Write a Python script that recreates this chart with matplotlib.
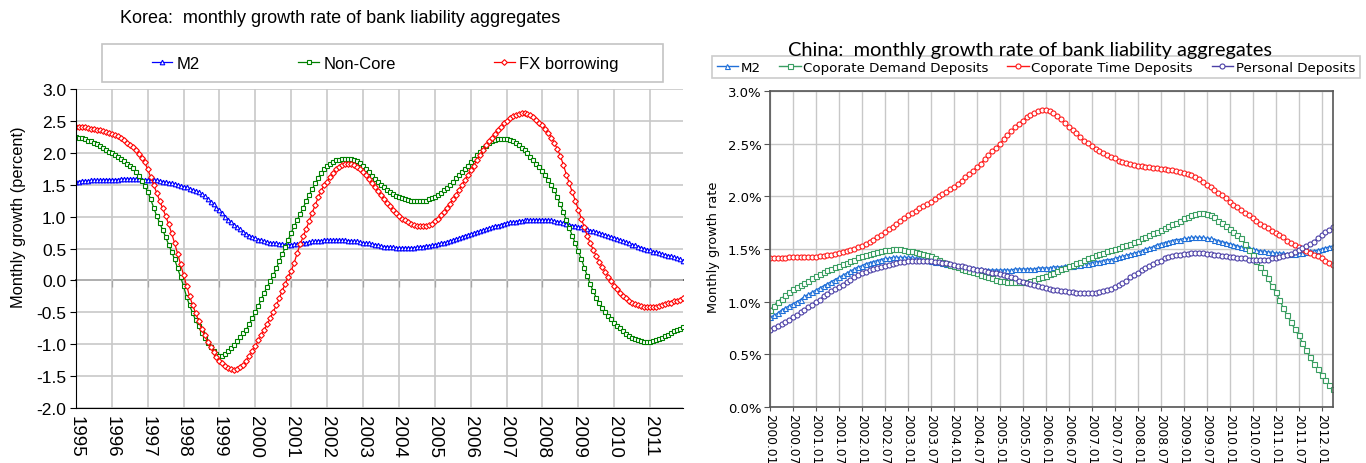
import numpy as np
import matplotlib
matplotlib.use("Agg")
import matplotlib.pyplot as plt
from matplotlib.patches import Rectangle

# ---- Korea: monthly data 1995.01 - 2011.12 ----
korea_years = [str(y) for y in range(1995, 2012)]

korea_m2 = [
    1.55, 1.55, 1.56, 1.56, 1.56, 1.57, 1.57, 1.57, 1.57, 1.58, 1.58, 1.58,
    1.58, 1.58, 1.58, 1.59, 1.59, 1.59, 1.59, 1.59, 1.59, 1.59, 1.58, 1.58,
    1.58, 1.58, 1.57, 1.57, 1.56, 1.55, 1.54, 1.53, 1.52, 1.51, 1.50, 1.48,
    1.47, 1.46, 1.44, 1.42, 1.40, 1.38, 1.35, 1.32, 1.28, 1.23, 1.19, 1.14,
    1.10, 1.05, 1.00, 0.95, 0.91, 0.87, 0.83, 0.80, 0.76, 0.73, 0.70, 0.68,
    0.66, 0.64, 0.63, 0.61, 0.60, 0.59, 0.58, 0.58, 0.57, 0.57, 0.56, 0.56,
    0.56, 0.57, 0.57, 0.58, 0.59, 0.59, 0.60, 0.61, 0.61, 0.62, 0.62, 0.63,
    0.63, 0.63, 0.63, 0.63, 0.63, 0.63, 0.63, 0.62, 0.62, 0.61, 0.61, 0.60,
    0.59, 0.58, 0.58, 0.57, 0.56, 0.55, 0.54, 0.53, 0.53, 0.52, 0.52, 0.51,
    0.51, 0.51, 0.51, 0.51, 0.51, 0.51, 0.52, 0.52, 0.53, 0.54, 0.54, 0.55,
    0.56, 0.57, 0.58, 0.59, 0.60, 0.62, 0.63, 0.65, 0.66, 0.68, 0.70, 0.71,
    0.73, 0.74, 0.76, 0.77, 0.79, 0.80, 0.82, 0.83, 0.85, 0.86, 0.87, 0.89,
    0.90, 0.91, 0.91, 0.92, 0.93, 0.93, 0.94, 0.94, 0.95, 0.95, 0.95, 0.95,
    0.95, 0.95, 0.95, 0.94, 0.93, 0.92, 0.91, 0.90, 0.89, 0.87, 0.86, 0.85,
    0.84, 0.83, 0.81, 0.80, 0.78, 0.77, 0.76, 0.74, 0.73, 0.71, 0.70, 0.68,
    0.67, 0.65, 0.63, 0.62, 0.60, 0.58, 0.56, 0.55, 0.53, 0.51, 0.50, 0.48,
    0.47, 0.45, 0.44, 0.43, 0.41, 0.40, 0.39, 0.38, 0.36, 0.35, 0.33, 0.31,
]

korea_noncore = [
    2.25, 2.24, 2.23, 2.21, 2.19, 2.18, 2.16, 2.14, 2.11, 2.08, 2.05, 2.02,
    1.99, 1.96, 1.93, 1.90, 1.87, 1.83, 1.80, 1.76, 1.70, 1.63, 1.56, 1.48,
    1.39, 1.27, 1.14, 1.01, 0.90, 0.79, 0.68, 0.56, 0.45, 0.33, 0.19, 0.05,
    -0.09, -0.26, -0.39, -0.51, -0.62, -0.72, -0.82, -0.91, -0.98, -1.05, -1.10, -1.15,
    -1.18, -1.19, -1.16, -1.11, -1.06, -1.01, -0.95, -0.89, -0.83, -0.77, -0.68, -0.59,
    -0.50, -0.40, -0.29, -0.19, -0.10, -0.01, 0.08, 0.19, 0.30, 0.41, 0.52, 0.64,
    0.75, 0.85, 0.95, 1.04, 1.14, 1.24, 1.34, 1.43, 1.52, 1.61, 1.68, 1.75,
    1.79, 1.83, 1.86, 1.88, 1.89, 1.90, 1.91, 1.91, 1.90, 1.89, 1.87, 1.84,
    1.80, 1.75, 1.70, 1.64, 1.59, 1.54, 1.50, 1.46, 1.42, 1.39, 1.36, 1.33,
    1.31, 1.29, 1.27, 1.26, 1.25, 1.24, 1.24, 1.24, 1.24, 1.25, 1.27, 1.29,
    1.31, 1.34, 1.37, 1.41, 1.45, 1.49, 1.54, 1.60, 1.65, 1.70, 1.75, 1.80,
    1.85, 1.91, 1.96, 2.01, 2.07, 2.11, 2.15, 2.18, 2.20, 2.21, 2.21, 2.21,
    2.21, 2.20, 2.18, 2.15, 2.12, 2.08, 2.04, 1.99, 1.94, 1.89, 1.83, 1.77,
    1.71, 1.65, 1.57, 1.49, 1.41, 1.30, 1.19, 1.07, 0.95, 0.82, 0.70, 0.58,
    0.46, 0.34, 0.20, 0.07, -0.06, -0.17, -0.27, -0.35, -0.43, -0.50, -0.56, -0.61,
    -0.66, -0.71, -0.75, -0.80, -0.84, -0.87, -0.90, -0.92, -0.94, -0.95, -0.96, -0.97,
    -0.96, -0.95, -0.93, -0.92, -0.90, -0.87, -0.85, -0.82, -0.80, -0.78, -0.76, -0.73,
]

korea_fx = [
    2.41, 2.41, 2.40, 2.40, 2.39, 2.38, 2.37, 2.36, 2.35, 2.34, 2.33, 2.31,
    2.30, 2.28, 2.26, 2.23, 2.20, 2.16, 2.13, 2.09, 2.04, 1.98, 1.92, 1.85,
    1.74, 1.62, 1.50, 1.37, 1.25, 1.13, 1.01, 0.88, 0.74, 0.58, 0.42, 0.25,
    0.08, -0.08, -0.25, -0.38, -0.51, -0.63, -0.76, -0.86, -0.96, -1.04, -1.12, -1.20,
    -1.26, -1.30, -1.34, -1.37, -1.39, -1.40, -1.39, -1.36, -1.32, -1.26, -1.19, -1.11,
    -1.03, -0.94, -0.86, -0.77, -0.68, -0.59, -0.49, -0.39, -0.28, -0.16, -0.05, 0.06,
    0.15, 0.28, 0.43, 0.57, 0.69, 0.81, 0.93, 1.06, 1.18, 1.30, 1.40, 1.50,
    1.55, 1.62, 1.69, 1.74, 1.78, 1.81, 1.82, 1.83, 1.82, 1.81, 1.78, 1.74,
    1.70, 1.65, 1.59, 1.52, 1.46, 1.40, 1.34, 1.28, 1.22, 1.16, 1.10, 1.06,
    1.01, 0.97, 0.94, 0.91, 0.89, 0.87, 0.86, 0.85, 0.85, 0.86, 0.87, 0.89,
    0.93, 0.97, 1.02, 1.08, 1.14, 1.20, 1.27, 1.34, 1.41, 1.49, 1.57, 1.65,
    1.73, 1.80, 1.88, 1.96, 2.04, 2.12, 2.18, 2.24, 2.30, 2.36, 2.41, 2.46,
    2.50, 2.54, 2.57, 2.59, 2.61, 2.62, 2.62, 2.61, 2.59, 2.56, 2.52, 2.47,
    2.43, 2.38, 2.31, 2.24, 2.15, 2.06, 1.95, 1.81, 1.66, 1.52, 1.38, 1.25,
    1.11, 0.97, 0.83, 0.70, 0.58, 0.48, 0.38, 0.29, 0.21, 0.13, 0.06, -0.01,
    -0.08, -0.14, -0.19, -0.24, -0.28, -0.32, -0.35, -0.37, -0.39, -0.40, -0.41, -0.42,
    -0.42, -0.41, -0.41, -0.40, -0.39, -0.37, -0.36, -0.35, -0.33, -0.32, -0.30, -0.28,
]

# ---- China: monthly data 2000.01 - 2012.04 (percent) ----
china_labels = ["%d.%s" % (y, m) for y in range(2000, 2013) for m in ("01", "07")][:25]

china_m2 = [
    0.85, 0.87, 0.89, 0.92, 0.94, 0.96, 0.98, 1.00, 1.02, 1.05, 1.07, 1.09,
    1.11, 1.13, 1.15, 1.17, 1.19, 1.21, 1.23, 1.25, 1.27, 1.29, 1.31, 1.33,
    1.34, 1.36, 1.37, 1.38, 1.39, 1.40, 1.41, 1.41, 1.42, 1.42, 1.42, 1.42,
    1.42, 1.42, 1.41, 1.41, 1.40, 1.40, 1.39, 1.38, 1.38, 1.37, 1.36, 1.36,
    1.35, 1.34, 1.34, 1.33, 1.32, 1.32, 1.31, 1.31, 1.30, 1.30, 1.30, 1.30,
    1.30, 1.30, 1.30, 1.30, 1.31, 1.31, 1.31, 1.31, 1.31, 1.31, 1.32, 1.32,
    1.32, 1.32, 1.33, 1.33, 1.33, 1.34, 1.34, 1.34, 1.35, 1.35, 1.36, 1.36,
    1.37, 1.38, 1.38, 1.39, 1.40, 1.40, 1.41, 1.42, 1.43, 1.44, 1.45, 1.46,
    1.47, 1.48, 1.50, 1.51, 1.52, 1.54, 1.55, 1.56, 1.57, 1.58, 1.59, 1.59,
    1.60, 1.60, 1.61, 1.61, 1.61, 1.61, 1.60, 1.60, 1.59, 1.58, 1.57, 1.56,
    1.55, 1.54, 1.53, 1.52, 1.51, 1.51, 1.50, 1.49, 1.48, 1.48, 1.47, 1.47,
    1.46, 1.46, 1.46, 1.45, 1.45, 1.45, 1.46, 1.46, 1.47, 1.48, 1.48, 1.49,
    1.50, 1.51, 1.52, 1.53,
]

china_demand = [
    0.92, 0.96, 1.00, 1.03, 1.06, 1.09, 1.12, 1.14, 1.16, 1.18, 1.20, 1.22,
    1.24, 1.26, 1.28, 1.30, 1.31, 1.33, 1.34, 1.36, 1.37, 1.39, 1.40, 1.42,
    1.43, 1.44, 1.45, 1.46, 1.47, 1.48, 1.49, 1.49, 1.50, 1.50, 1.50, 1.49,
    1.48, 1.48, 1.47, 1.46, 1.45, 1.44, 1.43, 1.41, 1.40, 1.38, 1.37, 1.35,
    1.34, 1.33, 1.31, 1.30, 1.29, 1.28, 1.27, 1.25, 1.24, 1.23, 1.22, 1.21,
    1.20, 1.20, 1.19, 1.19, 1.19, 1.19, 1.19, 1.19, 1.20, 1.21, 1.22, 1.23,
    1.24, 1.26, 1.27, 1.29, 1.31, 1.32, 1.34, 1.35, 1.37, 1.38, 1.40, 1.41,
    1.42, 1.44, 1.45, 1.46, 1.48, 1.49, 1.50, 1.51, 1.53, 1.54, 1.55, 1.57,
    1.58, 1.60, 1.61, 1.63, 1.65, 1.66, 1.68, 1.70, 1.72, 1.74, 1.75, 1.77,
    1.79, 1.80, 1.82, 1.83, 1.84, 1.84, 1.83, 1.82, 1.80, 1.77, 1.75, 1.72,
    1.69, 1.66, 1.63, 1.60, 1.55, 1.49, 1.44, 1.39, 1.33, 1.28, 1.22, 1.15,
    1.09, 1.02, 0.94, 0.87, 0.81, 0.74, 0.68, 0.61, 0.54, 0.47, 0.41, 0.36,
    0.30, 0.26, 0.21, 0.17,
]

china_time = [
    1.41, 1.41, 1.41, 1.41, 1.41, 1.42, 1.42, 1.42, 1.42, 1.42, 1.42, 1.42,
    1.42, 1.43, 1.43, 1.44, 1.44, 1.45, 1.46, 1.47, 1.48, 1.49, 1.50, 1.52,
    1.53, 1.55, 1.57, 1.59, 1.61, 1.63, 1.66, 1.69, 1.71, 1.74, 1.77, 1.79,
    1.82, 1.84, 1.86, 1.89, 1.91, 1.93, 1.95, 1.97, 2.00, 2.02, 2.04, 2.07,
    2.09, 2.12, 2.15, 2.18, 2.21, 2.24, 2.28, 2.31, 2.35, 2.39, 2.43, 2.46,
    2.50, 2.54, 2.58, 2.62, 2.66, 2.69, 2.72, 2.75, 2.77, 2.79, 2.81, 2.82,
    2.82, 2.81, 2.79, 2.76, 2.73, 2.70, 2.66, 2.63, 2.60, 2.56, 2.53, 2.51,
    2.48, 2.45, 2.43, 2.41, 2.39, 2.37, 2.36, 2.34, 2.33, 2.32, 2.31, 2.30,
    2.29, 2.29, 2.28, 2.28, 2.27, 2.27, 2.26, 2.26, 2.25, 2.25, 2.24, 2.23,
    2.22, 2.21, 2.20, 2.18, 2.16, 2.14, 2.11, 2.09, 2.06, 2.03, 2.01, 1.98,
    1.95, 1.92, 1.90, 1.87, 1.84, 1.82, 1.79, 1.77, 1.74, 1.72, 1.70, 1.67,
    1.65, 1.63, 1.61, 1.58, 1.56, 1.54, 1.52, 1.50, 1.48, 1.46, 1.44, 1.43,
    1.41, 1.39, 1.37, 1.35,
]

china_personal = [
    0.73, 0.75, 0.77, 0.79, 0.81, 0.83, 0.85, 0.87, 0.90, 0.92, 0.95, 0.97,
    1.00, 1.02, 1.05, 1.07, 1.10, 1.12, 1.14, 1.16, 1.19, 1.21, 1.23, 1.25,
    1.27, 1.28, 1.30, 1.31, 1.32, 1.33, 1.34, 1.35, 1.36, 1.37, 1.38, 1.38,
    1.39, 1.39, 1.39, 1.39, 1.39, 1.39, 1.39, 1.38, 1.38, 1.37, 1.37, 1.36,
    1.35, 1.34, 1.34, 1.33, 1.32, 1.31, 1.30, 1.30, 1.29, 1.28, 1.27, 1.27,
    1.26, 1.25, 1.24, 1.23, 1.22, 1.20, 1.19, 1.18, 1.17, 1.16, 1.15, 1.14,
    1.13, 1.12, 1.11, 1.11, 1.10, 1.10, 1.09, 1.09, 1.08, 1.08, 1.08, 1.08,
    1.08, 1.08, 1.09, 1.10, 1.11, 1.12, 1.14, 1.16, 1.18, 1.20, 1.23, 1.25,
    1.27, 1.30, 1.32, 1.34, 1.36, 1.38, 1.39, 1.41, 1.42, 1.43, 1.44, 1.44,
    1.45, 1.45, 1.46, 1.46, 1.46, 1.46, 1.45, 1.45, 1.44, 1.44, 1.43, 1.43,
    1.42, 1.42, 1.41, 1.41, 1.41, 1.40, 1.40, 1.40, 1.40, 1.40, 1.40, 1.41,
    1.41, 1.42, 1.43, 1.44, 1.45, 1.47, 1.49, 1.51, 1.53, 1.55, 1.57, 1.60,
    1.63, 1.66, 1.68, 1.71,
]

fig = plt.figure(figsize=(13.66, 4.64), dpi=100)
fig.patch.set_facecolor("white")

# ================= Korea panel =================
ax1 = fig.add_axes([0.0556, 0.1185, 0.4444, 0.6875])
kx = np.arange(len(korea_m2))
ksty = dict(markersize=3.3, markerfacecolor="white", markeredgewidth=0.8, linewidth=0.9)
ax1.plot(kx, korea_m2, color="#0000ff", marker="^", label="M2", **ksty)
ax1.plot(kx, korea_noncore, color="#008000", marker="s", label="Non-Core", **ksty)
ax1.plot(kx, korea_fx, color="#ff0000", marker="D", label="FX borrowing",
         **dict(ksty, markersize=2.9))

ax1.set_xlim(0, len(korea_m2) - 1)
ax1.set_ylim(-2.0, 3.0)
ax1.set_yticks(np.arange(-2.0, 3.01, 0.5))
ax1.set_yticklabels(["%.1f" % v for v in np.arange(-2.0, 3.01, 0.5)], fontsize=12.5,
                    family="Liberation Sans")
ax1.set_xticks(np.arange(0, len(korea_m2), 12))
ax1.set_xticklabels(korea_years, rotation=270, fontsize=13.5, family="Liberation Sans")
ax1.tick_params(axis="x", length=0, pad=5)
ax1.tick_params(axis="y", length=4, direction="out", pad=3)
ax1.grid(True, color="#c8c8c8", linewidth=1.2)
ax1.set_axisbelow(True)
for s in ("top", "right"):
    ax1.spines[s].set_visible(False)
ax1.spines["left"].set_color("black")
ax1.spines["bottom"].set_color("black")
ax1.set_ylabel("Monthly growth (percent)", fontsize=11.8, family="Liberation Sans")
ax1.yaxis.set_label_coords(-0.082, 0.6)

# zero axis with tick marks
zero = ax1.secondary_xaxis(0.4)
zero.set_xticks(np.arange(0, len(korea_m2), 12))
zero.set_xticklabels([])
zero.tick_params(axis="x", direction="out", length=5, color="black")
zero.spines["bottom"].set_color("black")
zero.spines["bottom"].set_linewidth(1.1)

# legend box drawn separately so the entries can sit loosely inside
fig.patches.append(Rectangle((0.0747, 0.8211), 0.4107, 0.0819, transform=fig.transFigure,
                             facecolor="white", edgecolor="#c4c4c4", linewidth=1.2))
handles, labels = ax1.get_legend_handles_labels()
fig.legend(handles, labels, loc="center", bbox_to_anchor=(0.2818, 0.862), ncol=3,
           frameon=False, handlelength=1.25, handletextpad=0.25, columnspacing=5.9,
           prop={"family": "Liberation Sans", "size": 12})

fig.text(0.249, 0.96, "Korea:  monthly growth rate of bank liability aggregates",
         ha="center", va="center", fontsize=13, family="Liberation Sans")

# ================= China panel =================
ax2 = fig.add_axes([0.5637, 0.1207, 0.4122, 0.681])
cx = np.arange(len(china_m2))
csty = dict(markersize=3.6, markerfacecolor="white", markeredgewidth=0.8, linewidth=1.0)
ax2.plot(cx, china_m2, color="#1f6fd8", marker="^", label="M2", **csty)
ax2.plot(cx, china_demand, color="#3a9e62", marker="s", label="Coporate Demand Deposits", **csty)
ax2.plot(cx, china_time, color="#ff1a1a", marker="o", label="Coporate Time Deposits", **csty)
ax2.plot(cx, china_personal, color="#4b3fa6", marker="o", label="Personal Deposits", **csty)

ax2.set_xlim(0, len(china_m2) - 1)
ax2.set_ylim(0, 3.0)
ax2.set_yticks(np.arange(0, 3.01, 0.5))
ax2.set_yticklabels(["%.1f%%" % v for v in np.arange(0, 3.01, 0.5)], fontsize=9.5,
                    family="DejaVu Sans")
ax2.set_xticks(np.arange(0, len(china_m2), 6))
ax2.set_xticklabels(china_labels, rotation=270, fontsize=8.8, family="DejaVu Sans")
ax2.tick_params(axis="x", direction="out", length=3, pad=1.5, color="#555555")
ax2.tick_params(axis="y", direction="out", length=4, pad=2, color="#555555")
ax2.grid(True, color="#c8c8c8", linewidth=1.0)
ax2.set_axisbelow(True)
for s in ax2.spines.values():
    s.set_color("#555555")
    s.set_linewidth(1.2)
ax2.set_ylabel("Monthly growth rate", fontsize=9.3, family="DejaVu Sans")
ax2.yaxis.set_label_coords(-0.089, 0.51)

leg2 = ax2.legend(loc="lower left", bbox_to_anchor=(-0.103, 1.04, 1.15, 0.08), mode="expand",
                  ncol=4, frameon=True, fancybox=False, handlelength=1.6, handletextpad=0.2,
                  columnspacing=0.5, prop={"family": "DejaVu Sans", "size": 9.6},
                  borderaxespad=0, borderpad=0.35)
leg2.get_frame().set_edgecolor("#bfbfbf")
leg2.get_frame().set_linewidth(1.2)

fig.text(0.754, 0.892, "China:  monthly growth rate of bank liability aggregates",
         ha="center", va="center", fontsize=14.4, family="Lato")

fig.savefig("out.png", dpi=100)
